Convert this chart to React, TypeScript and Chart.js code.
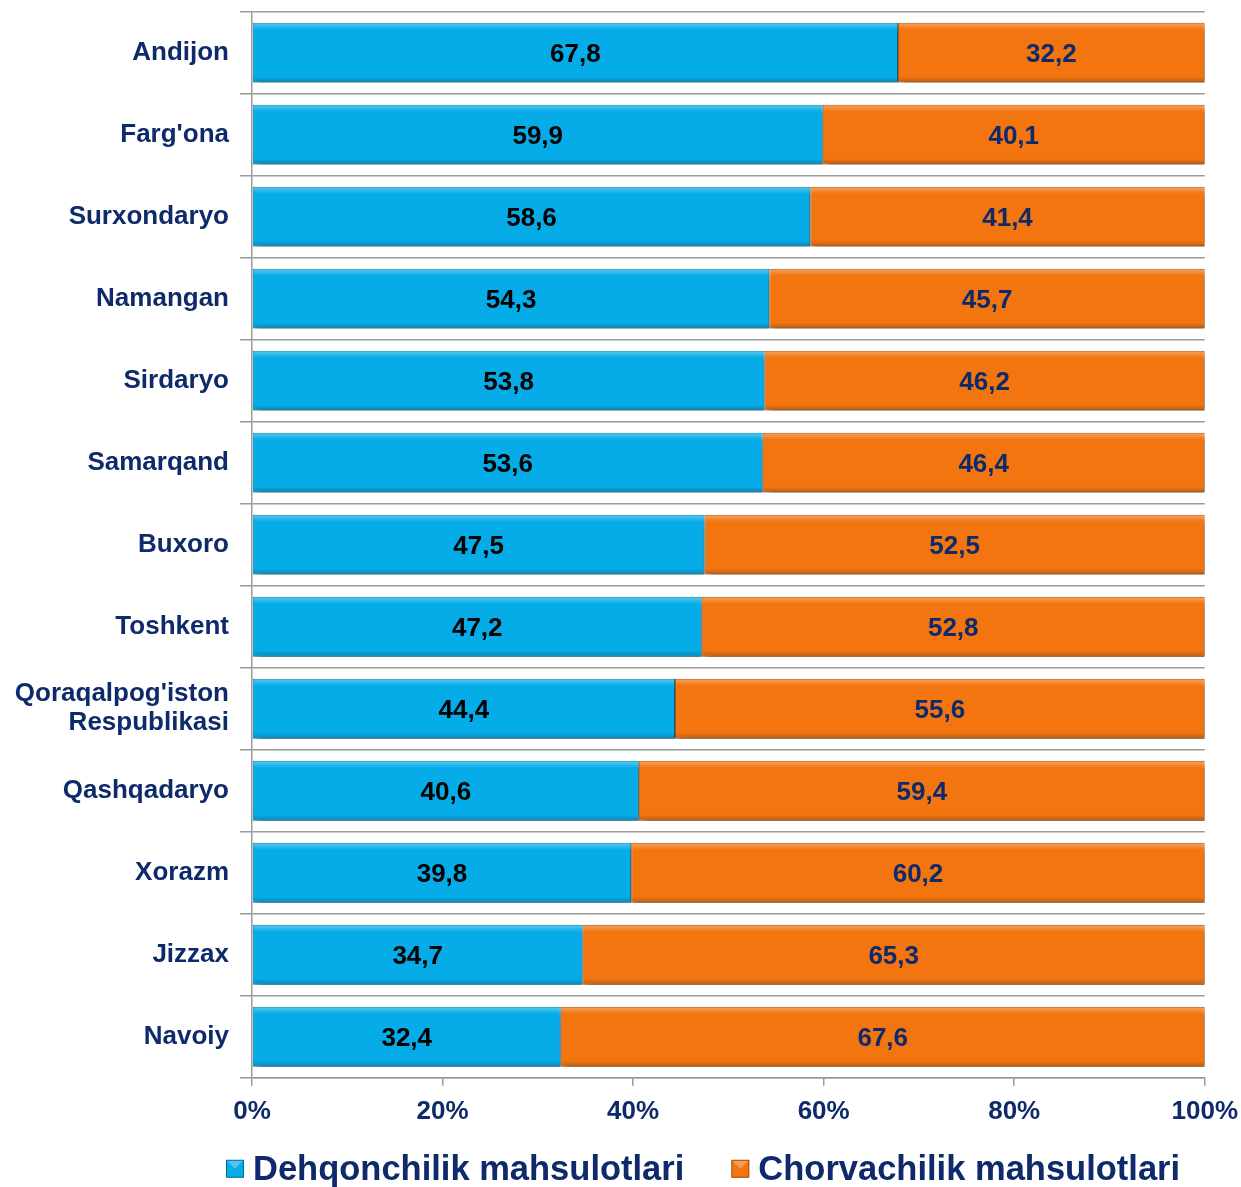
import React, { useEffect, useRef } from "react";
import { Chart, registerables } from "chart.js";

Chart.register(...registerables);

const regions: (string | string[])[] = [
  "Andijon",
  "Farg'ona",
  "Surxondaryo",
  "Namangan",
  "Sirdaryo",
  "Samarqand",
  "Buxoro",
  "Toshkent",
  ["Qoraqalpog'iston", "Respublikasi"],
  "Qashqadaryo",
  "Xorazm",
  "Jizzax",
  "Navoiy",
];
const dehqonchilik = [67.8, 59.9, 58.6, 54.3, 53.8, 53.6, 47.5, 47.2, 44.4, 40.6, 39.8, 34.7, 32.4];
const chorvachilik = [32.2, 40.1, 41.4, 45.7, 46.2, 46.4, 52.5, 52.8, 55.6, 59.4, 60.2, 65.3, 67.6];
const seriesNames = ["Dehqonchilik mahsulotlari", "Chorvachilik mahsulotlari"];
const xTicks = [0, 20, 40, 60, 80, 100];

const NAVY = "#0E2A6B";
const FONT = "Arial, 'Liberation Sans', sans-serif";
const BLUE = "#06ACE8";
const ORANGE = "#F27510";
const labelColors = ["#000000", NAVY];

const shadowPlugin = {
  id: "barShadow",
  beforeDatasetDraw(chart: any) {
    const ctx = chart.ctx;
    ctx.save();
    ctx.shadowColor = "rgba(0,0,0,0.42)";
    ctx.shadowBlur = 6;
    ctx.shadowOffsetX = 3;
    ctx.shadowOffsetY = 5;
  },
  afterDatasetDraw(chart: any) {
    chart.ctx.restore();
  },
};

const bevelPlugin = {
  id: "bevelLabels",
  afterDatasetsDraw(chart: any) {
    const ctx = chart.ctx;
    chart.data.datasets.forEach((ds: any, di: number) => {
      const meta = chart.getDatasetMeta(di);
      meta.data.forEach((bar: any, i: number) => {
        const { x, y, base, height } = bar.getProps(["x", "y", "base", "height"], true);
        const left = Math.min(x, base);
        const right = Math.max(x, base);
        const top = y - height / 2;
        const bottom = y + height / 2;
        ctx.save();
        const g = ctx.createLinearGradient(0, top, 0, top + 7);
        g.addColorStop(0, "rgba(255,255,255,0.35)");
        g.addColorStop(1, "rgba(255,255,255,0)");
        ctx.fillStyle = g;
        ctx.fillRect(left + 1, top + 1, right - left - 2, 7);
        const g2 = ctx.createLinearGradient(0, bottom - 6, 0, bottom);
        g2.addColorStop(0, "rgba(0,0,0,0)");
        g2.addColorStop(1, "rgba(0,0,0,0.22)");
        ctx.fillStyle = g2;
        ctx.fillRect(left + 1, bottom - 6, right - left - 2, 5);
        const v = ds.data[i];
        ctx.fillStyle = labelColors[di];
        ctx.font = `bold 26px ${FONT}`;
        ctx.textAlign = "center";
        ctx.textBaseline = "middle";
        ctx.fillText(v.toFixed(1).replace(".", ","), (left + right) / 2, y + 2);
        ctx.restore();
      });
    });
  },
};

const legendPlugin = {
  id: "customLegend",
  afterDraw(chart: any) {
    const ctx = chart.ctx;
    ctx.save();
    ctx.font = `bold 34.5px ${FONT}`;
    ctx.textBaseline = "middle";
    ctx.textAlign = "left";
    const yc = chart.chartArea.bottom + 91;
    let x = 226;
    chart.data.datasets.forEach((ds: any) => {
      const c = ds.backgroundColor;
      ctx.fillStyle = c;
      ctx.fillRect(x, yc - 9, 18, 18);
      ctx.strokeStyle = "rgba(0,0,0,0.35)";
      ctx.lineWidth = 1;
      ctx.strokeRect(x + 0.5, yc - 8.5, 17, 17);
      ctx.fillStyle = "rgba(255,255,255,0.3)";
      ctx.beginPath();
      ctx.moveTo(x + 1, yc - 8);
      ctx.lineTo(x + 17, yc - 8);
      ctx.lineTo(x + 9, yc);
      ctx.closePath();
      ctx.fill();
      x += 27;
      ctx.fillStyle = NAVY;
      ctx.fillText(ds.label, x, yc + 2);
      x += ctx.measureText(ds.label).width + 47;
    });
    ctx.restore();
  },
};

const CW = 1248;
const CH = 1201;

export default function App() {
  const ref = useRef<HTMLCanvasElement>(null);
  useEffect(() => {
    if (!ref.current) return;
    const chart = new Chart(ref.current, {
      type: "bar",
      data: {
        labels: regions as any,
        datasets: [
          {
            label: seriesNames[0],
            data: dehqonchilik,
            backgroundColor: BLUE,
            borderColor: "#0A83B3",
            borderWidth: 1,
            borderSkipped: false,
            categoryPercentage: 1,
            barPercentage: 0.73,
          },
          {
            label: seriesNames[1],
            data: chorvachilik,
            backgroundColor: ORANGE,
            borderColor: "#B2560A",
            borderWidth: 1,
            borderSkipped: false,
            categoryPercentage: 1,
            barPercentage: 0.73,
          },
        ],
      },
      options: {
        indexAxis: "y",
        animation: false,
        responsive: false,
        maintainAspectRatio: false,
        layout: { padding: { top: 12, right: 30, bottom: 50, left: 0 } },
        plugins: { legend: { display: false }, tooltip: { enabled: false } },
        scales: {
          x: {
            stacked: true,
            min: 0,
            max: 100,
            afterBuildTicks: (scale: any) => {
              scale.ticks = xTicks.map((v) => ({ value: v }));
            },
            ticks: {
              callback: (v: any) => v + "%",
              color: NAVY,
              font: { family: FONT, size: 26, weight: "bold" },
              padding: 10,
              maxRotation: 0,
            },
            grid: {
              drawOnChartArea: false,
              drawTicks: true,
              tickLength: 8,
              color: "#9A9A9A",
              lineWidth: 1.5,
            },
            border: { color: "#9A9A9A", width: 1.5 },
          },
          y: {
            stacked: true,
            afterFit: (scale: any) => {
              scale.width = 252;
            },
            ticks: {
              color: NAVY,
              font: { family: FONT, size: 26, weight: "bold", lineHeight: 1.12 },
              padding: 11,
            },
            grid: {
              offset: true,
              drawOnChartArea: true,
              drawTicks: true,
              tickLength: 12,
              color: "#9A9A9A",
              lineWidth: 1.5,
            },
            border: { color: "#9A9A9A", width: 1.5 },
          },
        },
      },
      plugins: [shadowPlugin, bevelPlugin, legendPlugin],
    } as any);
    return () => chart.destroy();
  }, []);
  return (
    <div style={{ position: "absolute", left: 0, top: 0, width: 1241, height: 1187, overflow: "hidden", background: "#fff" }}>
      <canvas
        ref={ref}
        width={CW}
        height={CH}
        style={{ position: "absolute", left: 0, top: -14, width: CW, height: CH }}
      />
    </div>
  );
}
